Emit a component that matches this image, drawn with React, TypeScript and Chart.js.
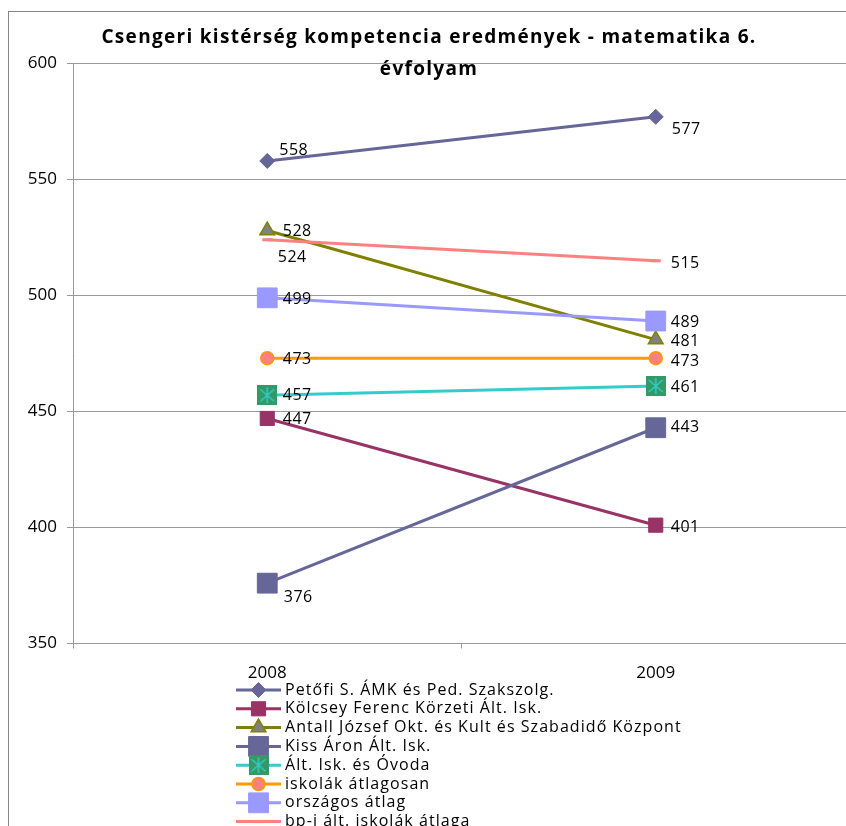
import React, { useEffect, useRef } from 'react';
import { Chart, registerables } from 'chart.js';
import { drawPoint } from 'chart.js/helpers';

Chart.register(...registerables);

// ---- data ----
const categories = ['2008', '2009'];
const seriesNames = [
  'Petőfi S. ÁMK és Ped. Szakszolg.',
  'Kölcsey Ferenc Körzeti Ált. Isk.',
  'Antall József Okt. és Kult és Szabadidő Központ',
  'Kiss Áron Ált. Isk.',
  'Ált. Isk. és Óvoda',
  'iskolák átlagosan',
  'országos átlag',
  'bp-i ált. iskolák átlaga',
];
const petofi = [558, 577];
const kolcsey = [447, 401];
const antall = [528, 481];
const kissAron = [376, 443];
const altIskOvoda = [457, 461];
const iskolakAtlagosan = [473, 473];
const orszagosAtlag = [499, 489];
const bpAtlag = [524, 515];
const yTicks = [350, 400, 450, 500, 550, 600];
const titleLines = ['Csengeri kistérség kompetencia eredmények - matematika 6.', 'évfolyam'];

const seriesValues = [petofi, kolcsey, antall, kissAron, altIskOvoda, iskolakAtlagosan, orszagosAtlag, bpAtlag];

// ---- styles ----
function makeStarSquare(): HTMLCanvasElement {
  const c = document.createElement('canvas');
  c.width = 20;
  c.height = 20;
  const g = c.getContext('2d')!;
  g.fillStyle = '#339966';
  g.fillRect(0, 0, 20, 20);
  g.strokeStyle = '#33CCCC';
  g.lineWidth = 1.5;
  g.beginPath();
  g.moveTo(10, 2); g.lineTo(10, 18);
  g.moveTo(3, 4); g.lineTo(17, 16);
  g.moveTo(17, 4); g.lineTo(3, 16);
  g.stroke();
  return c;
}

type S = { line: string; bg: string; border: string; pointStyle: any; radius: number; bw: number };

const labelOffsets: number[][][] = [
  [[12, -11], [16, 12.5]],
  [[15.5, 0.5], [15, 2]],
  [[15.5, 1], [15, 2]],
  [[16.5, 14], [15, 0]],
  [[15.5, 0], [15, 1.5]],
  [[15.5, 1], [15, 3]],
  [[15.5, 2], [15, 1.5]],
  [[10.5, 18], [15, 3]],
];

export default function App() {
  const ref = useRef<HTMLCanvasElement>(null);
  useEffect(() => {
    document.body.style.margin = '0';
    const star = makeStarSquare();
    const styles: S[] = [
      { line: '#666699', bg: '#666699', border: '#666699', pointStyle: 'rectRot', radius: 7.5, bw: 1 },
      { line: '#993366', bg: '#993366', border: '#993366', pointStyle: 'rect', radius: 10, bw: 1 },
      { line: '#808000', bg: '#808080', border: '#808000', pointStyle: 'triangle', radius: 8.5, bw: 1.5 },
      { line: '#666699', bg: '#666699', border: '#666699', pointStyle: 'rect', radius: 14, bw: 1 },
      { line: '#33CCCC', bg: '#339966', border: '#33CCCC', pointStyle: star, radius: 10, bw: 0 },
      { line: '#FF9900', bg: '#FF8080', border: '#FF9900', pointStyle: 'circle', radius: 6.5, bw: 1.5 },
      { line: '#9999FF', bg: '#9999FF', border: '#9999FF', pointStyle: 'rect', radius: 14, bw: 1 },
      { line: '#FF8080', bg: '#FF8080', border: '#FF8080', pointStyle: 'line', radius: 5, bw: 3 },
    ];

    const datasets = seriesValues.map((vals, i) => ({
      label: seriesNames[i],
      data: vals,
      borderColor: styles[i].line,
      borderWidth: 3,
      pointStyle: styles[i].pointStyle,
      pointRadius: styles[i].radius,
      pointHoverRadius: styles[i].radius,
      pointBackgroundColor: styles[i].bg,
      pointBorderColor: styles[i].border,
      pointBorderWidth: styles[i].bw,
      tension: 0,
      fill: false,
      order: seriesValues.length - i,
    }));

    const framePlugin = {
      id: 'frame',
      beforeDraw(chart: any) {
        const ctx = chart.ctx;
        ctx.save();
        ctx.fillStyle = '#ffffff';
        ctx.fillRect(0, 0, chart.width, chart.height);
        ctx.strokeStyle = '#868686';
        ctx.lineWidth = 1;
        ctx.strokeRect(8.5, 11.5, 1200, 1200);
        ctx.restore();
      },
    };

    const labelPlugin = {
      id: 'valueLabels',
      afterDatasetsDraw(chart: any) {
        const ctx = chart.ctx;
        ctx.save();
        ctx.font = '16px "Open Sans"';
        (ctx as any).letterSpacing = '0.5px';
        ctx.fillStyle = '#000';
        ctx.textBaseline = 'middle';
        ctx.textAlign = 'left';
        chart.data.datasets.forEach((ds: any, i: number) => {
          const meta = chart.getDatasetMeta(i);
          meta.data.forEach((el: any, j: number) => {
            const [dx, dy] = labelOffsets[i][j];
            ctx.fillText(String(ds.data[j]), el.x + dx, el.y + dy);
          });
        });
        ctx.restore();
      },
    };

    const titleLegendPlugin = {
      id: 'titleLegend',
      afterDraw(chart: any) {
        const ctx = chart.ctx;
        ctx.save();
        ctx.fillStyle = '#000';
        ctx.font = 'bold 19px "Open Sans"';
        (ctx as any).letterSpacing = '1.3px';
        ctx.textAlign = 'center';
        ctx.textBaseline = 'middle';
        ctx.fillText(titleLines[0], 429, 38);
        ctx.fillText(titleLines[1], 429, 70);

        // legend
        ctx.font = '16px "Open Sans"';
        (ctx as any).letterSpacing = '1.05px';
        ctx.textAlign = 'left';
        chart.data.datasets.forEach((ds: any, i: number) => {
          const y = 690 + 18.8 * i;
          ctx.strokeStyle = styles[i].line;
          ctx.lineWidth = 3;
          ctx.beginPath();
          ctx.moveTo(236, y);
          ctx.lineTo(281, y);
          ctx.stroke();
          ctx.fillStyle = styles[i].bg;
          ctx.strokeStyle = styles[i].border;
          ctx.lineWidth = styles[i].bw;
          drawPoint(ctx, { pointStyle: styles[i].pointStyle, rotation: 0, radius: styles[i].radius, borderWidth: styles[i].bw } as any, 258.5, y);
          ctx.fillStyle = '#000';
          ctx.fillText(ds.label, 285, y);
        });
        ctx.restore();
      },
    };

    const chart = new Chart(ref.current!, {
      type: 'line',
      data: { labels: categories, datasets: datasets as any },
      options: {
        responsive: false,
        animation: false,
        layout: { autoPadding: false, padding: { top: 63.5, bottom: 142.5, left: 0, right: 0 } },
        plugins: {
          legend: { display: false },
          title: { display: false },
          tooltip: { enabled: false },
        },
        scales: {
          x: {
            type: 'category',
            offset: true,
            grid: {
              offset: true,
              drawOnChartArea: false,
              drawTicks: true,
              tickLength: 5,
              color: '#999999',
            },
            border: { color: '#999999', width: 1 },
            ticks: {
              color: '#000',
              font: { family: '"Open Sans"', size: 17 },
              padding: 14,
              maxRotation: 0,
            },
            afterFit(scale: any) {
              scale.height = 40;
            },
          },
          y: {
            min: 350,
            max: 600,
            afterBuildTicks(scale: any) {
              scale.ticks = yTicks.map((v) => ({ value: v }));
            },
            grid: { color: '#999999', tickLength: 6, drawTicks: true },
            border: { color: '#999999', width: 1 },
            ticks: {
              color: '#000',
              font: { family: '"Open Sans"', size: 17 },
              padding: 10,
            },
            afterFit(scale: any) {
              scale.width = 73;
            },
          },
        },
      },
      plugins: [framePlugin, labelPlugin, titleLegendPlugin],
    });
    return () => chart.destroy();
  }, []);

  return (
    <div style={{ position: 'absolute', left: 0, top: 0, width: 846, height: 826, overflow: 'hidden', background: '#fff' }}>
      <canvas ref={ref} width={850} height={826} style={{ display: 'block' }} />
    </div>
  );
}
